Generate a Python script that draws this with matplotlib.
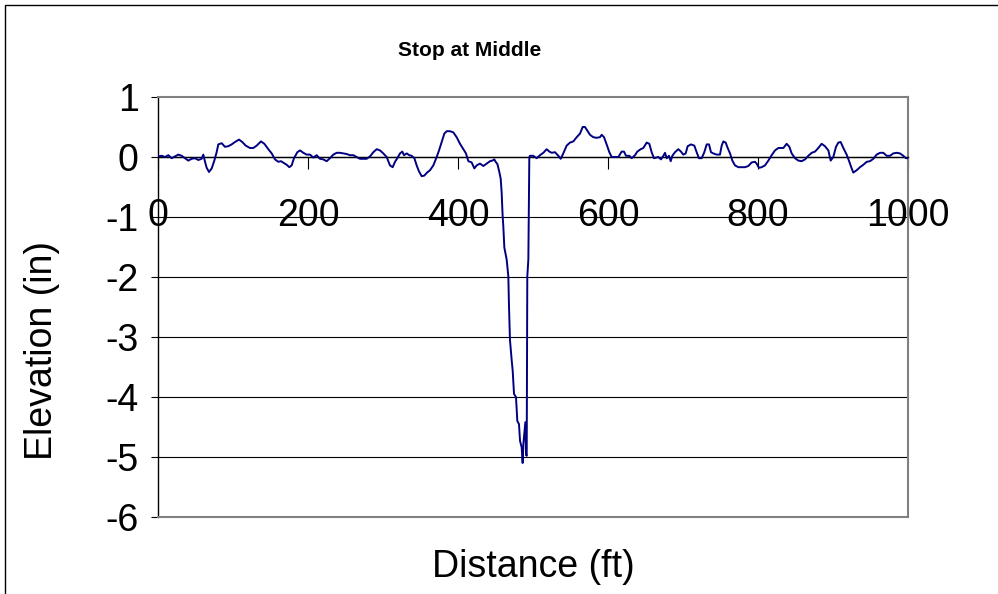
import matplotlib
matplotlib.use("Agg")
import matplotlib.pyplot as plt
from matplotlib.patches import Rectangle

# Longitudinal profile: distance (ft) vs elevation (in)
distance = [
    0, 4.9, 9.3, 13.8, 18.2, 22.7, 27.1, 31.6, 36, 40.4, 44.9, 49.3, 53.8, 58.2,
    60.4, 62.7, 64.9, 68, 71.6, 75.1, 78.2, 80.4, 84.9, 89.3, 93.8, 98.2, 102.7,
    108, 112.4, 116.9, 122.7, 127.1, 131.6, 137.3, 141.8, 147.1, 151.6, 156,
    160.4, 164, 171.6, 175.1, 178.2, 181.3, 185.8, 189.3, 193.8, 198.2, 202.7,
    207.1, 211.6, 216, 220.4, 224.9, 229.3, 233.8, 238.2, 242.7, 247.1, 251.6,
    256, 260.4, 264.9, 269.3, 273.8, 278.2, 282.7, 287.1, 291.6, 296, 300.4,
    304.9, 309.3, 312.9, 316, 319.1, 322.7, 325.8, 328, 331.6, 335.1, 338.2,
    341.8, 344.9, 348, 351.6, 355.1, 358.7, 362.7, 367.1, 371.6, 374.7, 378.2,
    381.8, 384.9, 389.3, 393.8, 398.2, 402.7, 407.1, 410.6, 413.8, 418.2, 421.8,
    424.9, 429.3, 433.8, 438.2, 442.7, 445.8, 448.4, 450.2, 452.6, 455.1, 456.9,
    458.2, 459.5, 460.4, 461.8, 464.9, 467.1, 468, 469.3, 471.6, 472.9, 474.7,
    477.3, 479.1, 481.3, 482.7, 484.9, 486.2, 487.1, 488.4, 489.8, 490.7, 491.6,
    492, 492.4, 493.8, 495.1, 496, 500.4, 504.9, 509.3, 513.8, 518.2, 521.8,
    524.9, 529.3, 533.8, 536.9, 540.4, 544.9, 549.3, 553.8, 558.2, 562.7, 566.2,
    569.3, 572.4, 576, 580.4, 584.9, 589.3, 591.6, 594.7, 598.2, 601.8, 604.9,
    609.3, 613.8, 618.2, 621.3, 624, 628.4, 631.6, 636, 639.1, 643.6, 647.1,
    651.6, 655.1, 658.2, 661.3, 664.5, 667.1, 670.7, 673.8, 676, 678.2, 681.3,
    683.6, 685.8, 689.3, 693.8, 697.3, 700.4, 703.6, 706.2, 710.7, 715.1, 718.2,
    721.3, 724.9, 728.4, 731.6, 734.7, 737.3, 740.4, 744.9, 749.3, 751.6, 753.8,
    756.9, 759.6, 762.7, 765.8, 769.3, 773.8, 778.2, 782.7, 787.1, 791.6, 796,
    798.2, 801.3, 804.9, 809.3, 813.8, 818.2, 822.7, 827.1, 831.6, 833.8, 838.2,
    841.8, 844.9, 849.3, 853.8, 858.2, 862.7, 867.1, 871.6, 876, 880.4, 884.9,
    889.3, 893.8, 896.9, 900.4, 904, 907.1, 910.2, 913.8, 918.2, 921.8, 924.9,
    927.1, 931.6, 936, 940.4, 944.9, 949.3, 953.8, 958.2, 962.7, 967.1, 971.6,
    976, 980.4, 984.9, 989.3, 993.8, 997.3, 1000,
]
elevation = [
    0.01, 0.02, 0.0, 0.03, -0.02, 0.01, 0.04, 0.02, -0.02, -0.06, -0.03, -0.02,
    -0.05, -0.03, 0.04, -0.08, -0.18, -0.25, -0.19, -0.06, 0.08, 0.21, 0.23,
    0.17, 0.18, 0.21, 0.25, 0.29, 0.25, 0.19, 0.15, 0.15, 0.19, 0.26, 0.22,
    0.13, 0.06, -0.04, -0.08, -0.07, -0.13, -0.17, -0.14, -0.02, 0.08, 0.11,
    0.07, 0.04, 0.04, -0.01, 0.03, -0.03, -0.04, -0.07, -0.02, 0.04, 0.07, 0.07,
    0.06, 0.05, 0.03, 0.03, 0.0, -0.03, -0.03, -0.03, 0.01, 0.08, 0.13, 0.11,
    0.06, 0.0, -0.14, -0.17, -0.08, -0.02, 0.06, 0.09, 0.03, 0.06, 0.03, 0.02,
    -0.02, -0.14, -0.24, -0.32, -0.31, -0.26, -0.22, -0.14, 0.0, 0.11, 0.25,
    0.39, 0.43, 0.43, 0.41, 0.33, 0.22, 0.13, 0.06, -0.07, -0.09, -0.19, -0.14,
    -0.11, -0.15, -0.11, -0.07, -0.06, -0.04, -0.08, -0.12, -0.25, -0.36,
    -0.59, -0.98, -1.15, -1.51, -1.71, -1.99, -2.49, -3.05, -3.39, -3.56,
    -3.95, -4.00, -4.40, -4.45, -4.73, -4.84, -5.10, -4.79, -4.62, -4.42,
    -4.96, -4.98, -3.61, -1.99, -1.71, 0.0, 0.02, 0.02, -0.02, 0.03, 0.07,
    0.13, 0.09, 0.07, 0.08, 0.02, -0.03, 0.06, 0.19, 0.24, 0.26, 0.33, 0.39,
    0.5, 0.5, 0.44, 0.37, 0.33, 0.32, 0.33, 0.37, 0.33, 0.21, 0.08, 0.0, 0.0,
    0.0, 0.09, 0.09, 0.02, 0.02, -0.02, 0.03, 0.09, 0.13, 0.15, 0.24, 0.22,
    0.08, -0.02, -0.01, 0.0, -0.04, 0.02, 0.07, -0.02, 0.02, -0.07, 0.02, 0.08,
    0.13, 0.09, 0.04, 0.06, 0.18, 0.21, 0.19, 0.08, -0.02, -0.02, 0.08, 0.21,
    0.21, 0.08, 0.06, 0.04, 0.04, 0.19, 0.26, 0.24, 0.15, 0.06, -0.06, -0.14,
    -0.17, -0.17, -0.17, -0.15, -0.09, -0.08, -0.11, -0.18, -0.17, -0.14,
    -0.06, 0.03, 0.11, 0.15, 0.15, 0.15, 0.22, 0.17, 0.06, -0.02, -0.06, -0.07,
    -0.04, 0.02, 0.07, 0.09, 0.15, 0.22, 0.18, 0.11, -0.06, 0.0, 0.17, 0.24,
    0.25, 0.15, 0.04, -0.08, -0.19, -0.26, -0.22, -0.17, -0.13, -0.08, -0.07,
    -0.03, 0.04, 0.07, 0.07, 0.02, 0.02, 0.06, 0.07, 0.06, 0.02, -0.02, -0.02,
]

x_ticks = [0, 200, 400, 600, 800, 1000]
y_ticks = [1, 0, -1, -2, -3, -4, -5, -6]

title_text = "Stop at Middle"
x_label = "Distance (ft)"
y_label = "Elevation (in)"

plt.rcParams["font.family"] = ["Liberation Sans", "DejaVu Sans"]

W, H = 998, 594
fig = plt.figure(figsize=(W / 100, H / 100), dpi=100)
fig.patch.set_facecolor("white")

# chart frame (extends past the right and bottom edges)
fig.patches.append(Rectangle((5 / W, -0.2), 1.5, 1.2 - 5 / H + 0.0,
                             transform=fig.transFigure, fill=False,
                             edgecolor="black", linewidth=1.0))

left, right, top, bottom = 158, 908, 97, 517
ax = fig.add_axes([left / W, 1 - bottom / H, (right - left) / W, (bottom - top) / H])

ax.plot(distance, elevation, color="#000080", linewidth=1.4, zorder=3)

ax.set_xlim(0, 1000)
ax.set_ylim(-6, 1)
ax.set_xticks(x_ticks)
ax.set_yticks(y_ticks)
ax.set_xticklabels([str(t) for t in x_ticks])
ax.set_yticklabels([str(t) for t in y_ticks])

ax.grid(axis="y", color="black", linewidth=0.8)
ax.set_axisbelow(True)
for tk in ax.yaxis.get_major_ticks():
    if tk.get_loc() in (1, -6):
        tk.gridline.set_visible(False)

# plot-area border
for side in ("top", "right"):
    ax.spines[side].set_color("#808080")
    ax.spines[side].set_linewidth(1.5)
ax.spines["left"].set_color("black")
ax.spines["left"].set_linewidth(1.0)
ax.axhline(-6, color="#808080", linewidth=1.5, zorder=2.6, clip_on=False)

# category axis crosses at zero
ax.spines["bottom"].set_position(("data", 0))
ax.spines["bottom"].set_color("black")
ax.spines["bottom"].set_linewidth(1.0)

ax.tick_params(axis="x", direction="out", length=8.5, width=0.8, pad=21,
               labelsize=27, colors="black")
ax.tick_params(axis="y", direction="out", length=5, width=0.8, pad=9,
               labelsize=27, colors="black")

fig.text(470 / W, 1 - 50 / H, title_text, ha="center", va="center",
         fontsize=15, fontweight="bold")
fig.text(533 / W, 1 - 567 / H, x_label, ha="center", va="center", fontsize=27)
fig.text(42 / W, 1 - 351 / H, y_label, ha="center", va="center",
         rotation=90, fontsize=27)

fig.savefig("out.png", dpi=100)
